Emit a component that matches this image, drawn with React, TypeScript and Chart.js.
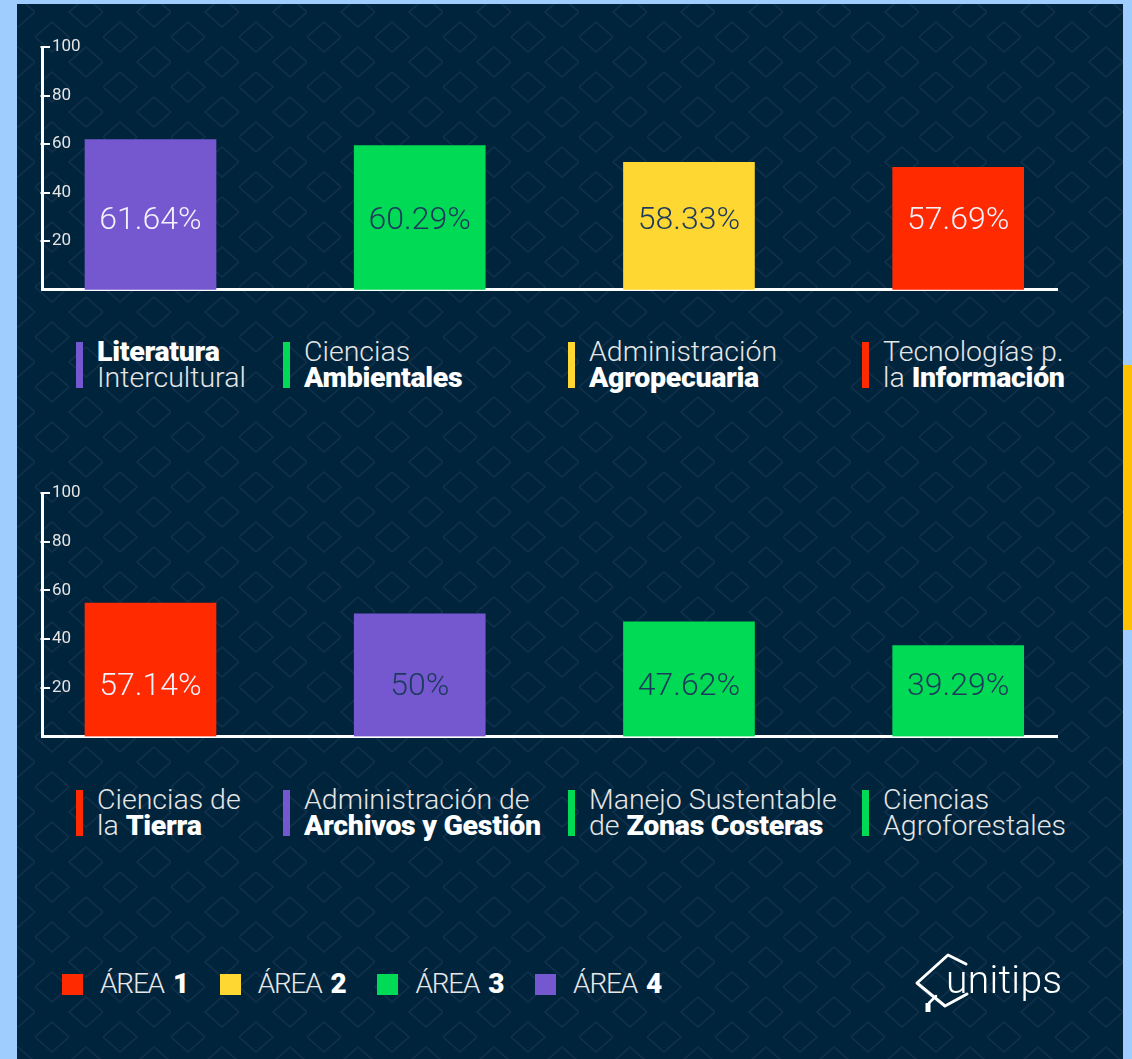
import React, { useEffect, useRef } from "react";
import { Chart, registerables } from "chart.js";

Chart.register(...registerables);

// ---------- data ----------
const yTickValues = [0, 20, 40, 60, 80, 100];

const topCategories = [
  "**Literatura**|Intercultural",
  "Ciencias|**Ambientales**",
  "Administración|**Agropecuaria**",
  "Tecnologías p.|la **Información**",
];
const topBarValues = [61.9, 59.4, 52.5, 50.4];
const topValueLabels = ["61.64%", "60.29%", "58.33%", "57.69%"];
const topAreas = [4, 3, 2, 1];

const bottomCategories = [
  "Ciencias de|la **Tierra**",
  "Administración de|**Archivos y Gestión**",
  "Manejo Sustentable|de **Zonas Costeras**",
  "Ciencias|Agroforestales",
];
const bottomBarValues = [54.8, 50.4, 47.1, 37.3];
const bottomValueLabels = ["57.14%", "50%", "47.62%", "39.29%"];
const bottomAreas = [1, 4, 3, 3];

const areaNumbers = [1, 2, 3, 4];
const areaWord = "ÁREA";

// ---------- styles ----------
const AREA_COLORS: Record<number, string> = {
  1: "#ff2a00",
  2: "#ffd733",
  3: "#00da55",
  4: "#7558cf",
};
const LIGHT_TEXT = "#f3f1fb";
const DARK_TEXT = "#1b3a5c";
const topTextColors = [LIGHT_TEXT, DARK_TEXT, DARK_TEXT, LIGHT_TEXT];
const bottomTextColors = [LIGHT_TEXT, DARK_TEXT, DARK_TEXT, DARK_TEXT];

const FONT = "Roboto, 'Noto Sans', sans-serif";

const patternSvg =
  "<svg xmlns='http://www.w3.org/2000/svg' width='68' height='50'>" +
  "<g fill='none' stroke='#12304a' stroke-width='1.5'>" +
  "<path d='M17 10 L34 25 L17 40 L0 25 Z'/>" +
  "<path d='M51 -15 L68 0 L51 15 L34 0 Z'/>" +
  "<path d='M51 35 L68 50 L51 65 L34 50 Z'/>" +
  "</g></svg>";
const patternUrl = `url("data:image/svg+xml,${encodeURIComponent(patternSvg)}")`;

const tickMarksPlugin = {
  id: "tickMarks",
  afterDraw(chart: any) {
    const y = chart.scales.y;
    const ctx = chart.ctx;
    const left = chart.chartArea.left;
    ctx.save();
    ctx.strokeStyle = "#ffffff";
    ctx.lineWidth = 2;
    y.ticks.forEach((t: any) => {
      if (t.value === 0) return;
      const py = Math.round(y.getPixelForValue(t.value));
      ctx.beginPath();
      ctx.moveTo(left - 1.5, py);
      ctx.lineTo(left + 8, py);
      ctx.stroke();
    });
    ctx.restore();
  },
};

const barLabelsPlugin = {
  id: "barLabels",
  afterDatasetsDraw(chart: any, _args: any, opts: any) {
    const ctx = chart.ctx;
    const meta = chart.getDatasetMeta(0);
    const y = chart.scales.y.getPixelForValue(opts.labelAt);
    ctx.save();
    ctx.font = `300 32px ${FONT}`;
    ctx.textAlign = "center";
    ctx.textBaseline = "middle";
    meta.data.forEach((el: any, i: number) => {
      ctx.fillStyle = opts.colors[i];
      ctx.fillText(opts.labels[i], el.x, y);
    });
    ctx.restore();
  },
};

type ChartProps = {
  values: number[];
  labels: string[];
  areas: number[];
  textColors: string[];
  top: number;
  height: number;
  padTop: number;
  padBottom: number;
  labelAt: number;
};

function BarChart(props: ChartProps) {
  const ref = useRef<HTMLCanvasElement | null>(null);
  useEffect(() => {
    if (!ref.current) return;
    const chart = new Chart(ref.current, {
      type: "bar",
      data: {
        datasets: [
          {
            data: props.values.map((v, i) => ({ x: i, y: v })),
            backgroundColor: props.areas.map((a) => AREA_COLORS[a]),
            borderWidth: 0,
            barThickness: 131,
          } as any,
        ],
      },
      options: {
        animation: false,
        responsive: false,
        maintainAspectRatio: false,
        layout: {
          padding: { left: 42, right: 75, top: props.padTop, bottom: props.padBottom },
        },
        plugins: {
          legend: { display: false },
          tooltip: { enabled: false },
          barLabels: { labels: props.labels, colors: props.textColors, labelAt: props.labelAt },
        } as any,
        scales: {
          x: {
            type: "linear",
            offset: false,
            min: -0.403,
            max: 3.367,
            ticks: { display: false },
            grid: { display: false, offset: false },
            border: { display: true, color: "#ffffff", width: 3 },
            afterFit: (s: any) => {
              s.height = 0;
            },
          },
          y: {
            min: 0,
            max: 100,
            afterBuildTicks: (s: any) => {
              s.ticks = yTickValues.map((v) => ({ value: v }));
            },
            ticks: {
              mirror: true,
              padding: 10,
              color: "#e4e4e4",
              font: { family: FONT, size: 17, weight: "400" as any },
              callback: (v: any) => (v === 0 ? "" : String(v)),
            },
            grid: { display: false },
            border: { display: true, color: "#ffffff", width: 3 },
            afterFit: (s: any) => {
              s.width = 0;
            },
          },
        } as any,
      },
      plugins: [tickMarksPlugin, barLabelsPlugin],
    });
    return () => chart.destroy();
  }, []);
  return (
    <canvas
      ref={ref}
      width={1132}
      height={props.height}
      style={{ position: "absolute", left: 0, top: props.top, width: 1132, height: props.height }}
    />
  );
}

function renderMarkup(line: string) {
  const parts = line.split("**");
  return parts.map((p, i) =>
    i % 2 === 1 ? (
      <span key={i} style={{ fontWeight: 900, color: "#ffffff", letterSpacing: "-0.3px" }}>
        {p}
      </span>
    ) : (
      <span key={i}>{p}</span>
    )
  );
}

const LEGEND_X = [76, 283, 568, 862];

function CategoryLegend({ items, areas, top }: { items: string[]; areas: number[]; top: number }) {
  return (
    <>
      {items.map((item, i) => (
        <div key={i} style={{ position: "absolute", left: LEGEND_X[i], top }}>
          <div
            style={{
              position: "absolute",
              left: 0,
              top: 3,
              width: 7,
              height: 46,
              background: AREA_COLORS[areas[i]],
            }}
          />
          <div
            style={{
              position: "absolute",
              left: 21,
              top: 0,
              whiteSpace: "nowrap",
              fontFamily: FONT,
              fontSize: 28.5,
              lineHeight: "26px",
              fontWeight: 300,
              color: "#e6e6e6",
            }}
          >
            {item.split("|").map((line, j) => (
              <div key={j}>{renderMarkup(line)}</div>
            ))}
          </div>
        </div>
      ))}
    </>
  );
}

export default function App() {
  return (
    <div
      style={{
        position: "absolute",
        left: 0,
        top: 0,
        width: 1132,
        height: 1059,
        background: "#9ecdfe",
        overflow: "hidden",
      }}
    >
      <div
        style={{
          position: "absolute",
          left: 17,
          top: 4,
          width: 1106,
          height: 1055,
          backgroundColor: "#01243d",
          backgroundImage: patternUrl,
          backgroundPosition: "18px 8px",
        }}
      />
      <div
        style={{
          position: "absolute",
          left: 1123,
          top: 365,
          width: 9,
          height: 265,
          background: "#ffc000",
        }}
      />

      <BarChart
        values={topBarValues}
        labels={topValueLabels}
        areas={topAreas}
        textColors={topTextColors}
        top={0}
        height={310}
        padTop={47}
        padBottom={18.5}
        labelAt={28.2}
      />
      <CategoryLegend items={topCategories} areas={topAreas} top={339} />

      <BarChart
        values={bottomBarValues}
        labels={bottomValueLabels}
        areas={bottomAreas}
        textColors={bottomTextColors}
        top={460}
        height={300}
        padTop={33}
        padBottom={23.5}
        labelAt={20.3}
      />
      <CategoryLegend items={bottomCategories} areas={bottomAreas} top={787} />

      {areaNumbers.map((n, i) => (
        <div
          key={n}
          style={{ position: "absolute", left: 62 + i * 157.7, top: 972, height: 24, display: "flex", alignItems: "center" }}
        >
          <div style={{ width: 21, height: 21, background: AREA_COLORS[n] }} />
          <div
            style={{
              marginLeft: 17,
              fontFamily: FONT,
              fontSize: 28,
              lineHeight: "24px",
              fontWeight: 300,
              color: "#e8e8e8",
              letterSpacing: "-1.2px",
              whiteSpace: "nowrap",
            }}
          >
            {areaWord}
            <span style={{ fontWeight: 900, color: "#ffffff", marginLeft: 9, letterSpacing: 0 }}>{n}</span>
          </div>
        </div>
      ))}

      <svg
        width={1132}
        height={1059}
        style={{ position: "absolute", left: 0, top: 0, pointerEvents: "none" }}
      >
        <path
          d="M966 964 L948 955 L917 983 L945 1006 L967 994"
          fill="none"
          stroke="#ffffff"
          strokeWidth={3}
          strokeLinejoin="round"
          strokeLinecap="round"
        />
        <path d="M936 996 L929 1003" stroke="#ffffff" strokeWidth={2.5} strokeLinecap="round" />
        <rect x={925.5} y={1003} width={5} height={9} fill="#ffffff" />
      </svg>
      <div
        style={{
          position: "absolute",
          left: 946,
          top: 961,
          fontFamily: FONT,
          fontSize: 39,
          lineHeight: "38px",
          fontWeight: 300,
          color: "#ffffff",
          letterSpacing: "0.3px",
        }}
      >
        unitips
      </div>
    </div>
  );
}
